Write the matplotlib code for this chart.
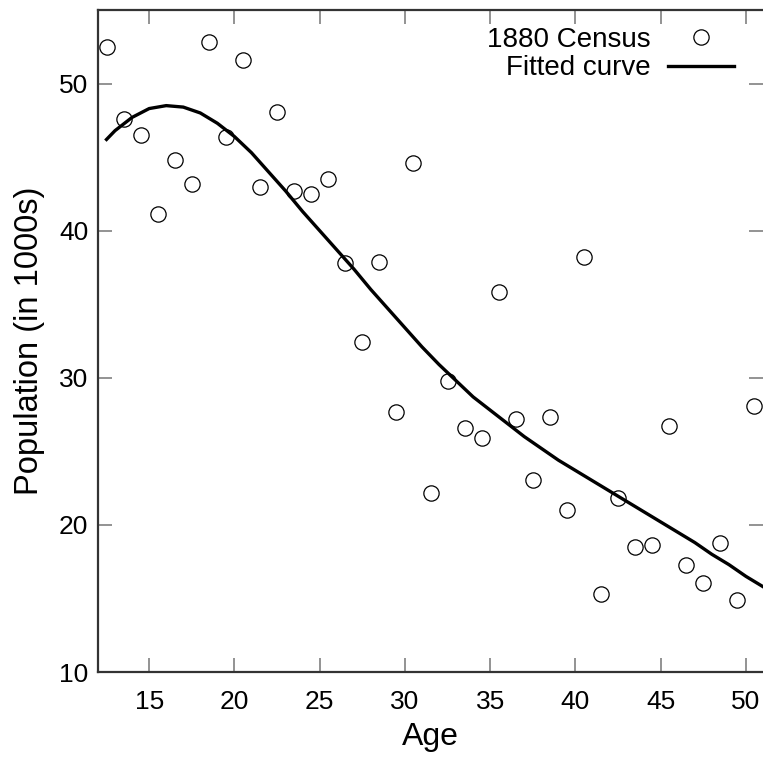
import numpy as np
import matplotlib
matplotlib.use("Agg")
import matplotlib.pyplot as plt

plt.rcParams["font.family"] = ["Liberation Sans", "DejaVu Sans"]

# 1880 census, population by age (thousands)
ages = [12.5, 13.5, 14.5, 15.5, 16.5, 17.5, 18.5, 19.5, 20.5, 21.5,
        22.5, 23.5, 24.5, 25.5, 26.5, 27.5, 28.5, 29.5, 30.5, 31.5,
        32.5, 33.5, 34.5, 35.5, 36.5, 37.5, 38.5, 39.5, 40.5, 41.5,
        42.5, 43.5, 44.5, 45.5, 46.5, 47.5, 48.5, 49.5, 50.5]
population = [52.5, 47.6, 46.5, 41.1, 44.8, 43.2, 52.8, 46.4, 51.6, 43.0,
              48.1, 42.7, 42.5, 43.5, 37.8, 32.4, 37.9, 27.7, 44.6, 22.2,
              29.8, 26.6, 25.9, 35.85, 27.2, 23.05, 27.3, 21.0, 38.2, 15.3,
              21.8, 18.5, 18.6, 26.75, 17.25, 16.05, 18.8, 14.9, 28.1]

# fitted curve
fit_ages = [12.5, 13, 14, 15, 16, 17, 18, 19, 20, 21, 22, 23, 24, 25, 26,
            27, 28, 29, 30, 31, 32, 33, 34, 35, 36, 37, 38, 39, 40, 41,
            42, 43, 44, 45, 46, 47, 48, 49, 50, 51]
fit_pop = [46.2, 46.8, 47.7, 48.3, 48.5, 48.4, 48.0, 47.3, 46.4, 45.3,
           44.0, 42.7, 41.3, 40.0, 38.7, 37.4, 36.0, 34.7, 33.4, 32.1,
           30.9, 29.8, 28.7, 27.8, 26.9, 26.0, 25.2, 24.4, 23.7, 23.0,
           22.3, 21.6, 20.9, 20.2, 19.5, 18.8, 18.0, 17.3, 16.5, 15.8]

xticks = [15, 20, 25, 30, 35, 40, 45, 50]
yticks = [10, 20, 30, 40, 50]

fig = plt.figure(figsize=(7.63, 7.59), dpi=100)
ax = fig.add_axes([98 / 763, 1 - 672 / 759, 665 / 763, 662 / 759])

ax.plot(ages, population, linestyle="none", marker="o", markersize=11,
        markerfacecolor="none", markeredgecolor="black", markeredgewidth=0.9,
        label="1880 Census")
ax.plot(fit_ages, fit_pop, color="black", linewidth=2.4, label="Fitted curve")

ax.set_xlim(12, 51)
ax.set_ylim(10, 55)
ax.set_xticks(xticks)
ax.set_yticks(yticks)

ax.tick_params(direction="in", length=10, width=1.2, color="#808080",
               labelsize=19, top=True, right=True, pad=7)
ax.tick_params(axis="x", pad=13)
for side, sp in ax.spines.items():
    sp.set_color("#333333")
    sp.set_linewidth(1.6)
ax.spines["right"].set_visible(False)

ax.set_xlabel("Age", fontsize=23, labelpad=6)
ax.set_ylabel("Population (in 1000s)", fontsize=23.5, labelpad=10)

ax.legend(loc="upper right", bbox_to_anchor=(0.982, 1.0), frameon=False,
          markerfirst=False, fontsize=20, handlelength=2.4,
          handletextpad=0.6, labelspacing=0.1, borderaxespad=0.2)

fig.savefig("out.png", dpi=100)
